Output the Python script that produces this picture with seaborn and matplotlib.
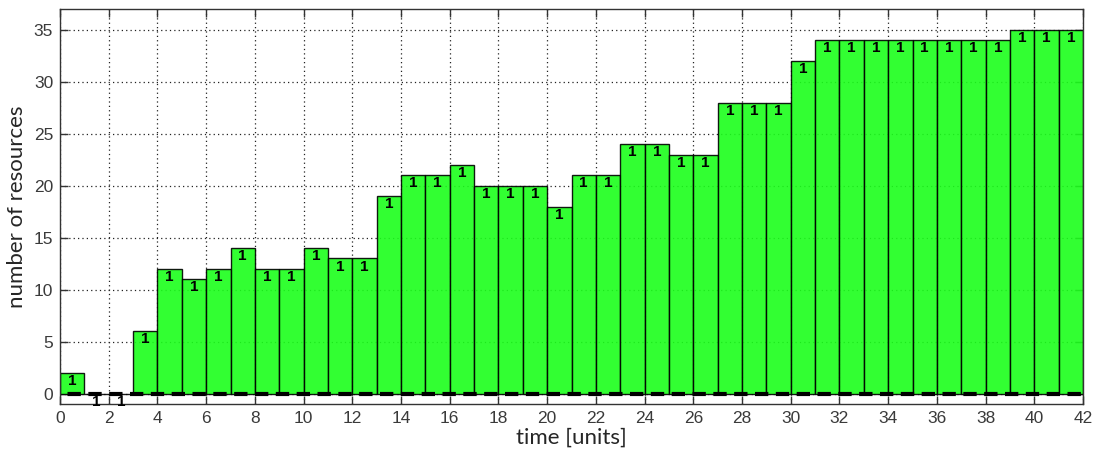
import matplotlib
matplotlib.use("Agg")
import matplotlib.pyplot as plt
import numpy as np
import pandas as pd
import seaborn as sns

# Resource count held in each unit time slot
slot_start = list(range(42))
resources = [2, 0, 0, 6, 12, 11, 12, 14, 12, 12,
             14, 13, 13, 19, 21, 21, 22, 20, 20, 20,
             18, 21, 21, 24, 24, 23, 23, 28, 28, 28,
             32, 34, 34, 34, 34, 34, 34, 34, 34, 35,
             35, 35]
slot_labels = ["1"] * 42
x_ticks = list(range(0, 43, 2))
y_ticks = list(range(0, 36, 5))

df = pd.DataFrame({"time": [s + 0.5 for s in slot_start], "resources": resources})

sns.set_style("white")
plt.rcParams["font.family"] = ["Liberation Sans", "DejaVu Sans"]

fig = plt.figure(figsize=(11.06, 4.53), dpi=100)
ax = fig.add_axes([0.0543, 0.1082, 0.9249, 0.8719])

# dotted grid sits under the semi-transparent bars
ax.set_axisbelow(True)
ax.grid(True, which="major", linestyle=(0, (1, 2.5)), color="#222222", linewidth=0.9)

sns.barplot(data=df, x="time", y="resources", native_scale=True, width=1.0,
            color=(0.11, 1.0, 0.11), alpha=0.9, edgecolor="black",
            linewidth=1.0, saturation=1, errorbar=None, ax=ax)

# per-slot labels hanging just under each bar top
for xc, val, lab in zip(df["time"], df["resources"], slot_labels):
    ax.text(xc, val - 0.1, lab, ha="center", va="top", fontsize=11,
            fontweight="bold", color="black", zorder=5)

# zero reference line
ax.axhline(0, color="black", linewidth=3.0, linestyle=(3.2, (3.2, 1.8)),
           solid_capstyle="butt", dash_capstyle="butt", zorder=4)

ax.set_xlim(0, 42)
ax.set_ylim(-1, 37)
ax.set_xticks(x_ticks)
ax.set_yticks(y_ticks)
ax.tick_params(axis="both", which="major", direction="in", length=6, width=1.0,
               color="#333333", labelsize=12.5, labelcolor="#3a3a3a",
               top=True, right=True, bottom=True, left=True, pad=5)

for sp in ax.spines.values():
    sp.set_visible(True)
    sp.set_color("#333333")
    sp.set_linewidth(1.0)

ax.set_xlabel("time [units]", fontsize=16, family=["Lato", "DejaVu Sans"], labelpad=1)
ax.set_ylabel("number of resources", fontsize=16, family=["Lato", "DejaVu Sans"], labelpad=5)

fig.savefig("out.png", dpi=100)
